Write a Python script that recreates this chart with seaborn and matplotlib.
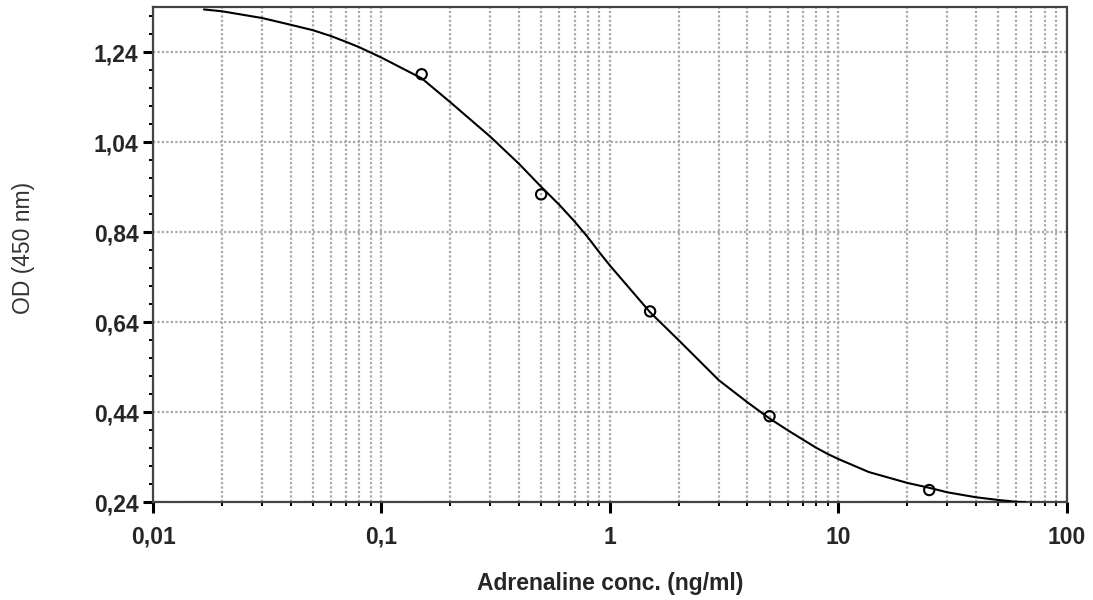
import matplotlib
matplotlib.use('Agg')
import matplotlib.pyplot as plt
import matplotlib.ticker as mticker
import seaborn as sns
import numpy as np
import pandas as pd

# measured standards
conc = [0.15, 0.5, 1.5, 5, 25]
od = [1.191, 0.924, 0.664, 0.431, 0.267]

# fitted curve
curve_x = [0.0167, 0.02, 0.03, 0.04, 0.05, 0.06, 0.07, 0.08, 0.1, 0.15, 0.2, 0.3, 0.4,
           0.5, 0.6, 0.7, 0.8, 0.9, 1.0, 1.5, 2, 3, 4, 5, 6, 7, 8, 9, 10, 13.6,
           20, 25, 30, 40, 50, 60, 66]
curve_y = [1.335, 1.331, 1.316, 1.301, 1.289, 1.276, 1.263, 1.251, 1.228, 1.182, 1.129,
           1.052, 0.992, 0.941, 0.901, 0.864, 0.829, 0.795, 0.766, 0.662, 0.600,
           0.511, 0.462, 0.426, 0.400, 0.379, 0.361, 0.347, 0.336, 0.307, 0.283, 0.272,
           0.262, 0.251, 0.245, 0.241, 0.240]

y_ticks = [0.24, 0.44, 0.64, 0.84, 1.04, 1.24]
x_ticks = [0.01, 0.1, 1, 10, 100]
x_labels = ['0,01', '0,1', '1', '10', '100']

df_pts = pd.DataFrame({'conc': conc, 'od': od})
df_fit = pd.DataFrame({'conc': curve_x, 'od': curve_y})

sns.set_style('white')
plt.rcParams['font.family'] = ['Liberation Sans', 'DejaVu Sans']

fig = plt.figure(figsize=(10.93, 6), dpi=100)
ax = fig.add_axes([0.140, 0.163, 0.836, 0.825])

sns.lineplot(x='conc', y='od', data=df_fit, color='black', linewidth=1.5,
             estimator=None, sort=False, ax=ax, zorder=3)
sns.scatterplot(x='conc', y='od', data=df_pts, marker='o', s=55,
                facecolor='none', edgecolor='black', linewidth=1.5, ax=ax, zorder=4)

ax.set_xscale('log')
ax.set_xlim(0.01, 100)
ax.set_ylim(0.24, 1.34)

ax.set_xticks(x_ticks)
ax.set_xticklabels(x_labels)
ax.xaxis.set_minor_locator(mticker.LogLocator(base=10, subs=np.arange(2, 10)))
ax.xaxis.set_minor_formatter(mticker.NullFormatter())
ax.set_yticks(y_ticks)
ax.set_yticklabels([('%.2f' % v).replace('.', ',') for v in y_ticks])
ax.yaxis.set_minor_locator(mticker.MultipleLocator(0.04))

for lab in ax.get_xticklabels() + ax.get_yticklabels():
    lab.set_fontweight('bold')
    lab.set_fontsize(16.5)

ax.tick_params(which='both', bottom=True, left=True, top=False, right=False)
ax.tick_params(axis='y', which='major', direction='out', length=7, width=2.2, color='black', pad=3.5)
ax.tick_params(axis='x', which='major', direction='out', length=8, width=2.2, color='black', pad=9)
ax.tick_params(which='minor', direction='out', length=3.2, width=1.4, color='black')

ax.grid(True, which='major', axis='both', color='#a8a8a8', linestyle=(0, (1, 1)), linewidth=1.6)
ax.grid(True, which='minor', axis='x', color='#a8a8a8', linestyle=(0, (1, 1)), linewidth=1.6)
ax.set_axisbelow(True)

for sp in ax.spines.values():
    sp.set_linestyle((0, (1, 1)))
    sp.set_color('#444444')
    sp.set_linewidth(1.6)

ax.set_xlabel('Adrenaline conc. (ng/ml)', fontsize=16.5, fontweight='bold', labelpad=17)
ax.set_ylabel('OD (450 nm)', fontsize=16.5, color='#333333')
ax.yaxis.set_label_coords(-0.129, 0.513)

fig.savefig('out.png', dpi=100)
